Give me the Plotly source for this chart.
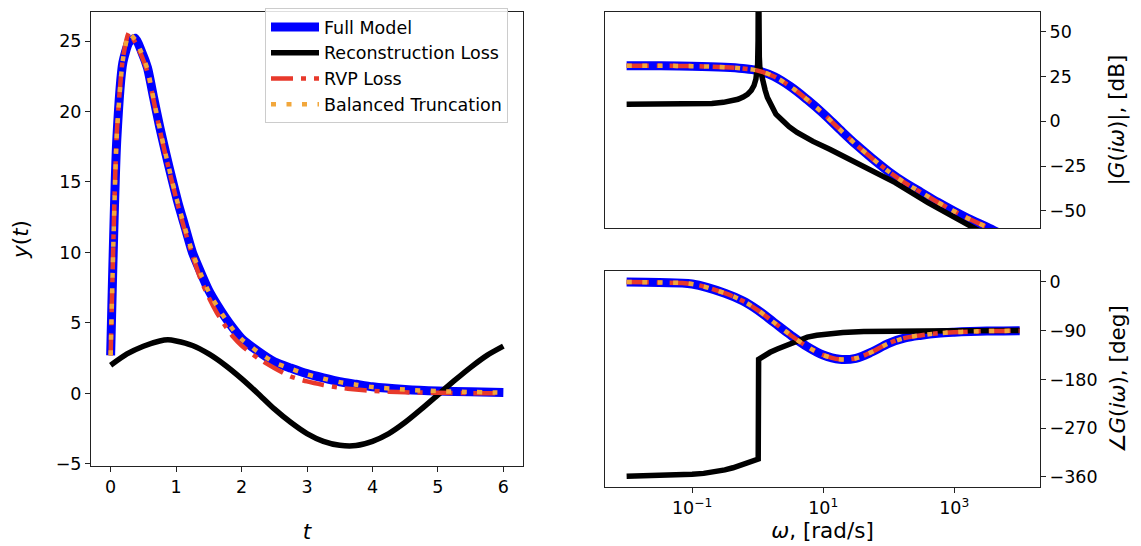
import plotly.graph_objects as go

# ---------------- data ----------------
# time response
t_main = [0, 0.094, 0.188, 0.281, 0.375, 0.469, 0.563, 0.656, 0.75, 0.844, 0.938,
          1.031, 1.125, 1.25, 1.375, 1.5, 1.625, 1.75, 1.875, 2.0, 2.25, 2.5, 2.75,
          3.0, 3.25, 3.5, 3.75, 4.0, 4.5, 5.0, 5.5, 6.0]
y_full = [2.7, 18.0, 23.5, 24.9, 25.2, 24.3, 23.1, 21.0, 18.9, 17.0, 15.2,
          13.5, 12.0, 10.0, 8.6, 7.3, 6.3, 5.4, 4.6, 3.9, 3.0, 2.25, 1.8,
          1.4, 1.1, 0.83, 0.65, 0.47, 0.28, 0.17, 0.11, 0.07]
y_rvp = [2.7, 18.5, 23.8, 25.6, 24.9, 24.0, 22.8, 20.8, 18.7, 16.8, 15.0,
         13.3, 11.7, 9.8, 8.1, 6.8, 5.7, 4.8, 4.0, 3.4, 2.5, 1.8, 1.2,
         0.85, 0.6, 0.4, 0.27, 0.18, 0.08, 0.04, 0.02, 0.01]
y_bt = [2.7, 18.3, 23.7, 25.5, 25.1, 24.2, 23.0, 20.9, 18.8, 16.9, 15.1,
        13.4, 11.9, 10.0, 8.5, 7.2, 6.2, 5.3, 4.5, 3.85, 2.95, 2.2, 1.75,
        1.35, 1.05, 0.8, 0.62, 0.45, 0.27, 0.16, 0.1, 0.06]
t_rec = [0, 0.25, 0.5, 0.75, 0.875, 1.0, 1.25, 1.5, 1.75, 2.0, 2.25, 2.5, 2.75, 3.0,
         3.25, 3.5, 3.75, 4.0, 4.25, 4.5, 4.75, 5.0, 5.25, 5.5, 5.75, 6.0]
y_rec = [2.0, 2.8, 3.35, 3.72, 3.8, 3.72, 3.4, 2.8, 2.0, 1.05, 0.0, -1.1, -2.05, -2.85,
         -3.4, -3.68, -3.7, -3.4, -2.85, -2.05, -1.1, -0.1, 0.9, 1.85, 2.7, 3.35]

# frequency response (omega in rad/s)
w_main = [0.01, 0.0316, 0.1, 0.316, 0.589, 1.0, 1.78, 3.16, 5.62, 10, 17.8, 31.6,
          56.2, 100, 178, 316, 562, 1000, 1780, 3160, 5620, 10000]
mag_full = [31.0, 31.0, 30.8, 30.2, 29.5, 28.3, 25.0, 19.4, 12.3, 4.4, -4.4, -12.9,
            -20.7, -28.0, -34.3, -39.7, -45.1, -50.1, -54.8, -59.0, -63.5, -68.0]
phase_full = [-0.4, -1.3, -4.0, -21.0, -35.0, -52.0, -75.0, -98.0, -119.0, -135.0,
              -143.0, -141.0, -129.0, -113.5, -103.5, -98.5, -95.0, -93.0, -91.7,
              -90.9, -90.5, -90.2]
mag_rvp = mag_full
phase_rvp = phase_full
mag_bt = mag_full
phase_bt = phase_full

w_rec_mag = [0.01, 0.0316, 0.1, 0.2, 0.3, 0.4, 0.5, 0.6, 0.7, 0.8, 0.88, 0.94, 0.98,
             1.0, 1.015, 1.03, 1.045, 1.06, 1.08, 1.13, 1.2, 1.3, 1.41, 1.66, 1.9, 2.4,
             3.02, 4.0, 4.9, 7.0, 12.6, 25.0, 39.8, 126, 398, 1660, 3980, 10000]
mag_rec = [9.6, 9.6, 9.7, 10.0, 10.6, 11.3, 12.3, 13.6, 15.1, 17.3, 20.0, 23.5, 28.0,
           32.0, 45.0, 100.0, 45.0, 36.0, 30.0, 26.0, 22.0, 17.5, 13.3, 8.0, 4.0, 0.5,
           -3.0, -6.2, -8.1, -11.2, -15.6, -21.0, -24.9, -34.2, -45.4, -57.5, -65.5, -73.5]
w_rec_ph = [0.01, 0.0316, 0.05, 0.075, 0.1, 0.15, 0.2, 0.25, 0.316, 0.42, 0.51, 0.65,
            0.8, 0.93, 1.02, 1.035, 1.26, 1.55, 2.0, 2.95, 4.0, 5.75, 8.0, 11.2, 20.0,
            41.7, 100, 316, 1000, 10000]
phase_rec = [-358.5, -357.8, -356.9, -356.0, -355.0, -353.4, -351.5, -349.4, -347.0,
             -343.0, -339.5, -335.0, -331.0, -328.5, -327.0, -143.0, -136.0, -130.0,
             -124.0, -115.0, -108.0, -102.0, -98.5, -96.0, -93.5, -91.4, -90.6, -90.2,
             -90.1, -90.0]

labels = ["Full Model", "Reconstruction Loss", "RVP Loss", "Balanced Truncation"]
colors = ["#0000ff", "#000000", "#e8392b", "#f2a73b"]

# ---------------- figure ----------------
W, H = 1141, 546
FONT = "DejaVu Sans"
TICK = 17.5
TITLE = 21.5

styles = [
    dict(color=colors[0], width=9),
    dict(color=colors[1], width=5.5),
    dict(color=colors[2], width=4.5, dash="22px,8px,5px,8px"),
    dict(color=colors[3], width=4.5, dash="5px,10.5px"),
]

fig = go.Figure()

# left: time response
time_series = [(t_main, y_full), (t_rec, y_rec), (t_main, y_rvp), (t_main, y_bt)]
for i, (tx, ty) in enumerate(time_series):
    fig.add_trace(go.Scatter(x=tx, y=ty, mode="lines", name=labels[i],
                             line=dict(**styles[i], shape="spline", smoothing=0.6),
                             xaxis="x", yaxis="y", showlegend=True))

# top right: magnitude
mag_series = [(w_main, mag_full), (w_rec_mag, mag_rec), (w_main, mag_rvp), (w_main, mag_bt)]
for i, (wx, my) in enumerate(mag_series):
    shp = "linear" if i == 1 else "spline"
    fig.add_trace(go.Scatter(x=wx, y=my, mode="lines", name=labels[i],
                             line=dict(**styles[i], shape=shp),
                             xaxis="x2", yaxis="y2", showlegend=False))

# bottom right: phase
ph_series = [(w_main, phase_full), (w_rec_ph, phase_rec), (w_main, phase_rvp), (w_main, phase_bt)]
for i, (wx, py) in enumerate(ph_series):
    shp = "linear" if i == 1 else "spline"
    fig.add_trace(go.Scatter(x=wx, y=py, mode="lines", name=labels[i],
                             line=dict(**styles[i], shape=shp),
                             xaxis="x3", yaxis="y3", showlegend=False))

axis_common = dict(showline=True, mirror=True, linecolor="#222222", linewidth=1.1,
                   showgrid=False, zeroline=False, ticks="outside", ticklen=5,
                   tickwidth=1.1, tickcolor="#222222", automargin=False,
                   tickfont=dict(family=FONT, size=TICK, color="black"))

xl = [83 / W, 515 / W]
xr = [597 / W, 1032 / W]

fig.update_layout(
    width=W, height=H,
    margin=dict(l=0, r=0, t=0, b=0),
    paper_bgcolor="white", plot_bgcolor="white",
    font=dict(family=FONT, size=TICK, color="black"),
    xaxis=dict(**axis_common, domain=xl, anchor="y", range=[-0.3, 6.3],
               tickvals=[0, 1, 2, 3, 4, 5, 6],
               title=dict(text="<i>t</i>", font=dict(size=TITLE), standoff=27)),
    yaxis=dict(**axis_common, domain=[1 - 458 / H, 1 - 4 / H], anchor="x",
               range=[-5.15, 27.06], tickvals=[-5, 0, 5, 10, 15, 20, 25],
               title=dict(text="<i>y</i>(<i>t</i>)", font=dict(size=TITLE), standoff=21)),
    xaxis2=dict(**axis_common, domain=xr, anchor="y2", type="log", range=[-2.33, 4.31],
                showticklabels=False, matches="x3"),
    yaxis2=dict(**axis_common, domain=[1 - 220 / H, 1 - 4 / H], anchor="x2", side="right",
                range=[-59.5, 61], tickvals=[-50, -25, 0, 25, 50],
                title=dict(text="|<i>G</i>(<i>iω</i>)|, [dB]", font=dict(size=TITLE), standoff=23)),
    xaxis3=dict(**axis_common, domain=xr, anchor="y3", type="log", range=[-2.33, 4.31],
                tickvals=[0.1, 10, 1000],
                ticktext=["10<sup>−1</sup>", "10<sup>1</sup>", "10<sup>3</sup>"],
                title=dict(text="<i>ω</i>, [rad/s]", font=dict(size=TITLE), standoff=3)),
    yaxis3=dict(**axis_common, domain=[1 - 479 / H, 1 - 263 / H], anchor="x3", side="right",
                range=[-378.5, 20], tickvals=[0, -90, -180, -270, -360],
                title=dict(text="∠<i>G</i>(<i>iω</i>), [deg]", font=dict(size=TITLE), standoff=13)),
    legend=dict(x=500 / W, xanchor="right", y=1.0, yanchor="top", itemwidth=48,
                bgcolor="rgba(255,255,255,0.85)", bordercolor="#cccccc", borderwidth=1,
                font=dict(family=FONT, size=17.5, color="black")),
)
fig.update_xaxes(ticks="", selector=dict(anchor="y2"))

fig.write_html("out.html")
